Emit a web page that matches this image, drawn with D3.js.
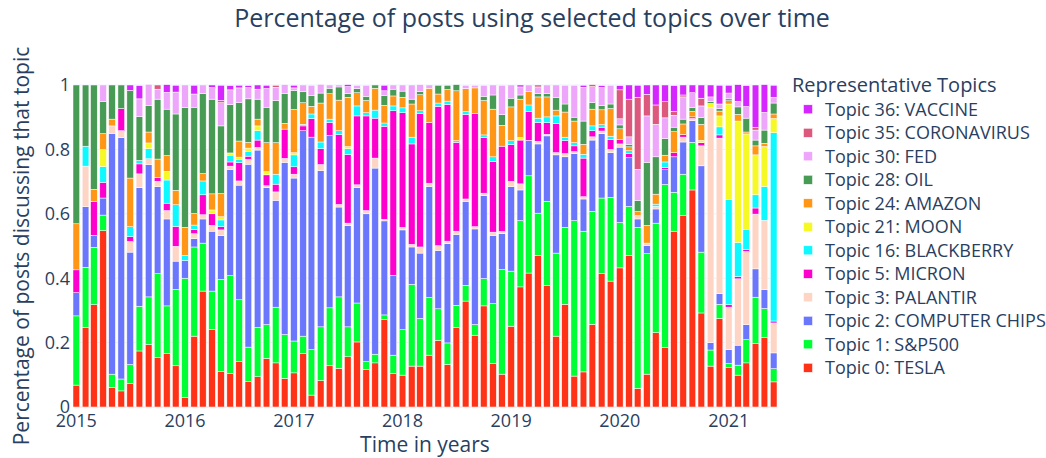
<!DOCTYPE html>
<html>
<head>
<meta charset="utf-8">
<script src="https://cdn.jsdelivr.net/npm/d3@7"></script>
<style>
body { margin: 0; background: #fff; }
text { font-family: "Open Sans", verdana, arial, sans-serif; fill: #2a3f5f; }
</style>
</head>
<body>
<div id="chart"></div>
<script>
// monthly share of posts per topic, Jan 2015 .. Jun 2021 (78 months)
var tesla = [.068,.247,.318,.548,.061,.05,.073,.174,.194,.153,
    .166,.128,.03,.22,.36,.24,.111,.104,.142,.08,
    .094,.151,.137,.089,.106,.166,.037,.082,.128,.12,
    .156,.202,.117,.137,.271,.104,.099,.127,.127,.161,
    .207,.132,.247,.329,.223,.314,.135,.102,.251,.373,
    .416,.471,.378,.22,.319,.096,.109,.257,.414,.391,
    .432,.471,.058,.102,.231,.185,.546,.594,.674,.292,
    .127,.275,.122,.099,.137,.197,.216,.078];
var sp500 = [.215,.187,.178,.048,.041,.037,.059,.139,.148,.261,
    .148,.237,.37,.277,.149,.12,.285,.304,.191,.106,
    .153,.105,.173,.136,.099,.054,.141,.167,.18,.222,
    .093,.121,.024,.027,.015,.057,.141,.254,.148,.179,
    .098,.067,.069,.049,.033,.085,.186,.325,.171,.206,
    .302,.131,.261,.258,.239,.483,.437,.351,.235,.26,
    .141,.152,.5,.374,.34,.506,.121,.129,.148,.189,
    .05,.044,.013,.031,.072,.144,.09,.041];
var chips = [.072,.188,.037,.053,.748,.75,.349,.368,.411,.27,
    .27,.088,.055,.026,.075,.186,.136,.33,.356,.568,
    .551,.426,.332,.535,.506,.638,.66,.485,.535,.279,
    .315,.359,.459,.578,.292,.248,.31,.116,.203,.345,
    .181,.308,.22,.261,.297,.258,.212,.112,.262,.095,
    .11,.215,.203,.305,.219,.208,.1,.221,.2,.139,
    .234,.151,.026,.026,.044,.046,.11,.1,.067,.268,
    .023,.033,.043,.062,.047,.088,.059,.049];
var palantir = [0,.126,0,0,.023,.021,.033,.043,.018,.017,
    .026,.046,0,.015,.013,.018,.018,.01,.013,.015,
    .008,.005,.026,.012,.012,0,0,.019,0,.008,
    .007,.008,.01,.031,.005,0,.008,.008,.019,.01,
    .015,.008,.01,.007,.007,.007,.01,.006,.017,.019,
    0,.008,.005,.007,.01,.006,.007,.01,.008,.01,
    .01,0,.01,.007,.008,0,0,.015,.007,.062,
    .729,.483,.132,.206,.227,.17,.215,.093];
var micron = [.071,0,.106,.049,0,.069,.015,.031,0,.012,
    .023,.062,0,.013,.062,.036,.01,.013,.057,.01,
    .023,.034,.024,.091,.023,.015,.058,.049,.041,.217,
    .213,.214,.294,.124,.289,.511,.356,.312,.415,.189,
    .433,.425,.276,.263,.351,.173,.22,.265,.114,.136,
    .089,.059,.036,.09,.041,.018,.12,.019,.012,.031,
    .013,.014,0,0,0,.007,.013,.008,.005,.01,
    0,.01,.008,.007,.007,.019,0,.006];
var blackberry = [0,.062,0,.049,0,0,.031,.011,.031,0,
    .072,.067,.015,.014,.043,0,.021,.021,.01,.015,
    .029,0,.031,0,.037,.005,.014,.021,.01,.012,
    .018,.031,.01,.025,.01,.015,.015,.021,.008,0,
    .01,.01,.005,.008,0,.008,.014,0,.012,0,
    .021,.013,.018,.024,.01,.01,.012,.015,.008,.01,
    0,.008,0,0,.007,.017,0,0,0,0,
    0,.025,.327,.106,.062,.041,.105,.585];
var moon = [0,0,0,.052,0,0,0,0,.018,0,
    .027,0,0,0,0,.012,.01,.007,.007,.01,
    .015,.01,0,0,.007,0,0,0,0,0,
    .007,0,0,0,0,0,0,0,0,0,
    0,0,0,0,0,0,0,0,0,.008,
    0,0,0,0,0,0,0,0,0,0,
    0,0,0,0,0,0,0,0,0,.007,
    .014,.034,.296,.377,.296,.124,.124,.044];
var amazon = [.143,0,.037,.05,.021,0,.151,0,.034,.057,
    .049,.045,.088,.036,.023,.05,.072,0,.05,.018,
    .021,.09,.098,.018,.134,.067,.024,.121,.079,.095,
    .153,.041,.038,.068,.055,.031,.033,.103,.05,.106,
    .028,.036,.155,.072,.08,.107,.148,.065,.105,.119,
    .041,.066,.062,.018,.078,.067,.031,.052,.046,.086,
    .034,.012,.013,.055,.031,.021,.065,.033,.017,.05,
    0,.015,.01,.021,.006,.028,.01,.014];
var oil = [.431,.19,.324,.099,.106,.073,.272,.136,.083,.186,
    .144,.237,.372,.33,.248,.294,.21,.15,.119,.135,
    .062,.11,.131,.093,.059,.034,.034,.031,.017,.041,
    .012,.013,.013,.01,.031,.021,.019,.015,.01,0,
    .027,.013,.019,0,0,.013,.044,.033,.027,.013,
    0,.01,.01,.039,.025,.012,.072,.021,.013,.014,
    .012,.008,.035,.196,.116,.052,.014,.015,.012,.021,
    .006,.008,.006,.023,.043,.018,.041,.034];
var fed = [0,0,0,.052,0,0,0,.055,.065,.031,
    .052,.068,.07,.041,.027,.036,.072,.046,.046,.035,
    .031,.058,.041,.027,.008,.021,.031,.027,.01,.006,
    .021,.01,.034,0,.014,.013,.019,.044,.021,.01,
    0,0,0,.01,.008,.034,.031,.091,.041,.025,
    .021,.021,.027,.039,.058,.099,.105,.049,.056,.058,
    .019,.023,.096,.144,.101,.064,.037,.069,.046,.036,
    .014,.014,.018,.017,.036,.031,.055,.018];
var coronavirus = [0,0,0,0,0,0,0,0,0,.013,
    0,0,0,0,0,0,.007,0,0,0,
    0,0,.006,0,0,0,0,0,0,0,
    0,0,0,0,0,0,0,0,0,0,
    0,0,0,0,0,0,0,0,0,0,
    0,.006,0,0,0,0,0,.006,0,0,
    .09,.117,.224,.067,.06,.05,.012,.006,0,.024,
    0,0,0,0,0,.008,0,0];
var vaccine = [0,0,0,0,0,0,.017,.041,0,0,
    .024,.021,0,.027,0,.008,.047,.013,.008,.006,
    .013,.01,0,0,.008,0,0,0,0,0,
    .006,0,0,0,.017,0,0,0,0,0,
    0,0,0,0,0,0,0,0,0,.006,
    0,0,0,0,0,0,.006,0,.006,0,
    .013,.044,.037,.029,.062,.052,.08,.031,.024,.041,
    .037,.058,.024,.052,.065,.132,.086,.037];

var topicNames = ["Topic 0: TESLA", "Topic 1: S&P500", "Topic 2: COMPUTER CHIPS",
    "Topic 3: PALANTIR", "Topic 5: MICRON", "Topic 16: BLACKBERRY", "Topic 21: MOON",
    "Topic 24: AMAZON", "Topic 28: OIL", "Topic 30: FED", "Topic 35: CORONAVIRUS",
    "Topic 36: VACCINE"];
var topicColors = ["#FD3216", "#00FE35", "#6A76FC", "#FED4C4", "#FE00CE", "#0DF9FF",
    "#F6F926", "#FF9616", "#479B55", "#EEA6FB", "#DC587D", "#D626FF"];
var yTicks = [0, 0.2, 0.4, 0.6, 0.8, 1];

var series = [tesla, sp500, chips, palantir, micron, blackberry, moon, amazon,
    oil, fed, coronavirus, vaccine];
var months = d3.utcMonth.range(new Date(Date.UTC(2015, 0, 1)), new Date(Date.UTC(2021, 6, 1)));

// one row per month for d3.stack
var rows = months.map(function(m, i) {
    var r = {date: m};
    series.forEach(function(s, k) { r[k] = s[i]; });
    return r;
});
var keys = d3.range(series.length);
var stacked = d3.stack().keys(keys)(rows);

var width = 1046, height = 458;
var plot = {left: 73, right: 777, top: 85, bottom: 407};
var day = 864e5;
var halfBar = 11.2 * day;

var xa = d3.scaleUtc()
    .domain([+months[0] - halfBar, +months[months.length - 1] + halfBar])
    .range([plot.left, plot.right]);
var ya = d3.scaleLinear()
    .domain([0, 1])
    .range([plot.bottom, plot.top]);
var barWidth = xa(+months[0] + 2 * halfBar) - xa(months[0]);

var svg = d3.select("#chart").append("svg")
    .attr("width", width)
    .attr("height", height);

//grid
var yearTicks = xa.ticks(d3.utcYear.every(1));
svg.append("g").selectAll("line")
    .data(yearTicks)
    .enter().append("line")
    .attr("x1", function(d) { return xa(d); })
    .attr("x2", function(d) { return xa(d); })
    .attr("y1", plot.top)
    .attr("y2", plot.bottom)
    .attr("stroke", "#EBF0F8")
    .attr("stroke-width", 1);
svg.append("g").selectAll("line")
    .data(yTicks)
    .enter().append("line")
    .attr("x1", plot.left)
    .attr("x2", plot.right)
    .attr("y1", function(d) { return ya(d); })
    .attr("y2", function(d) { return ya(d); })
    .attr("stroke", "#EBF0F8")
    .attr("stroke-width", function(d) { return d === 0 ? 2 : 1; });

//bars
svg.append("g").selectAll("g")
    .data(stacked)
    .enter().append("g")
    .attr("fill", function(d) { return topicColors[d.key]; })
    .selectAll("rect")
    .data(function(d) { return d; })
    .enter().append("rect")
    .attr("x", function(d) { return xa(d.data.date) - barWidth / 2; })
    .attr("width", barWidth)
    .attr("y", function(d) { return ya(d[1]); })
    .attr("height", function(d) { return Math.max(0, ya(d[0]) - ya(d[1])); })
    .attr("stroke", "#fff")
    .attr("stroke-width", 0.5);

//tick labels
svg.append("g").selectAll("text")
    .data(yTicks)
    .enter().append("text")
    .attr("x", plot.left - 3)
    .attr("y", function(d) { return ya(d); })
    .attr("dy", "0.35em")
    .style("text-anchor", "end")
    .style("font-size", "18px")
    .text(function(d) { return d3.format("~g")(d); });
svg.append("g").selectAll("text")
    .data(yearTicks)
    .enter().append("text")
    .attr("x", function(d) { return xa(d); })
    .attr("y", 427)
    .style("text-anchor", "middle")
    .style("font-size", "18px")
    .text(function(d) { return d3.utcFormat("%Y")(d); });

//titles
svg.append("text")
    .attr("x", 532)
    .attr("y", 27)
    .style("text-anchor", "middle")
    .style("font-size", "25px")
    .text("Percentage of posts using selected topics over time");
svg.append("text")
    .attr("x", (plot.left + plot.right) / 2)
    .attr("y", 452)
    .style("text-anchor", "middle")
    .style("font-size", "21px")
    .text("Time in years");
svg.append("text")
    .attr("transform", "translate(22," + (plot.top + plot.bottom) / 2 + ") rotate(-90)")
    .attr("dy", "0.35em")
    .style("text-anchor", "middle")
    .style("font-size", "21px")
    .text("Percentage of posts discussing that topic");

//legend, top item is the last trace
var legend = svg.append("g");
legend.append("text")
    .attr("x", 792)
    .attr("y", 92)
    .style("font-size", "20px")
    .text("Representative Topics");
var items = legend.selectAll("g.item")
    .data(keys.slice().reverse())
    .enter().append("g")
    .attr("class", "item")
    .attr("transform", function(d, i) { return "translate(0," + (109.3 + i * 23.5) + ")"; });
items.append("rect")
    .attr("x", 803.5)
    .attr("y", -4.5)
    .attr("width", 9)
    .attr("height", 9)
    .attr("fill", function(d) { return topicColors[d]; })
    .attr("stroke", "#fff")
    .attr("stroke-width", 0.5);
items.append("text")
    .attr("x", 825)
    .attr("dy", "0.35em")
    .style("font-size", "18px")
    .text(function(d) { return topicNames[d]; });
</script>
</body>
</html>
